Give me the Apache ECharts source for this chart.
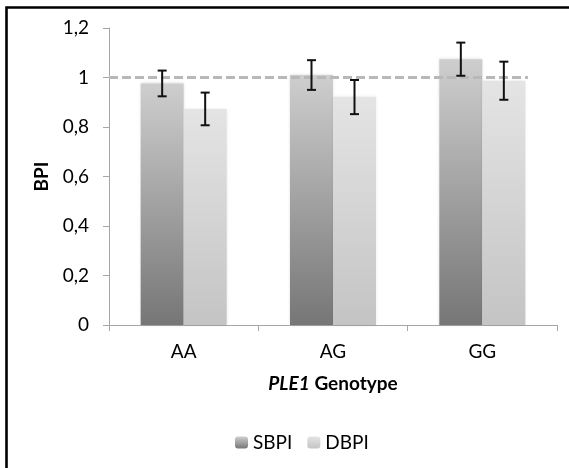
<!DOCTYPE html>
<html lang="en">
<head>
  <meta charset="UTF-8">
  <script src="https://cdn.jsdelivr.net/npm/echarts@6/dist/echarts.min.js"></script>
</head>
<body style="margin:0;background:#fff;">
<div id="main" style="width:569px;height:468px;"></div>

<script>
  var genotypes = ['AA', 'AG', 'GG'];
  var sbpi = [0.976, 1.010, 1.074];
  var dbpi = [0.873, 0.921, 0.987];
  var sbpiErr = [0.052, 0.060, 0.067];
  var dbpiErr = [0.066, 0.069, 0.077];
  var yTicks = [0, 0.2, 0.4, 0.6, 0.8, 1.0, 1.2];
  var refLine = [[0, 1], [2.806, 1]];

  var font = 'Lato';
  var fs = 19;
  var main = echarts.init(document.querySelector('#main'));

  var errData = [];
  for (var i = 0; i < genotypes.length; i++) {
    errData.push([i, sbpi[i] - sbpiErr[i], sbpi[i] + sbpiErr[i], 0]);
    errData.push([i, dbpi[i] - dbpiErr[i], dbpi[i] + dbpiErr[i], 1]);
  }

  function grad(top, bottom) {
    return new echarts.graphic.LinearGradient(0, 0, 0, 1, [
      {offset: 0, color: top}, {offset: 1, color: bottom}
    ]);
  }

  main.setOption({
    animation: false,
    graphic: [{
      type: 'rect',
      shape: {x: 6.5, y: 7.5, width: 700, height: 600},
      style: {fill: 'none', stroke: '#000', lineWidth: 2.6},
      z: 100
    }],
    legend: {
      data: ['SBPI', 'DBPI'],
      left: 230, top: 428,
      itemWidth: 13, itemHeight: 12, itemGap: 15,
      textStyle: {fontFamily: font, fontSize: fs, color: '#000'}
    },
    grid: {left: 109, right: 12, top: 28, bottom: 143},
    xAxis: [{
      type: 'category',
      data: genotypes,
      name: '{i|PLE1} Genotype',
      nameLocation: 'middle',
      nameGap: 49,
      nameTextStyle: {
        fontFamily: font, fontSize: fs, fontWeight: 'bold', color: '#000',
        rich: {i: {fontFamily: font, fontSize: fs, fontWeight: 'bold', fontStyle: 'italic', color: '#000'}}
      },
      axisLine: {lineStyle: {color: '#a6a6a6', width: 1}},
      axisTick: {show: true, length: 6, lineStyle: {color: '#a6a6a6'}},
      axisLabel: {fontFamily: font, fontSize: fs, color: '#000', margin: 17}
    }, {
      type: 'value', min: 0, max: 3, show: false
    }],
    yAxis: {
      type: 'value',
      min: yTicks[0], max: yTicks[yTicks.length - 1], interval: 0.2,
      name: 'BPI',
      nameLocation: 'middle',
      nameGap: 56,
      nameTextStyle: {fontFamily: font, fontSize: fs, fontWeight: 'bold', color: '#000'},
      axisLine: {show: true, lineStyle: {color: '#a6a6a6', width: 1}},
      axisTick: {show: true, length: 6, lineStyle: {color: '#a6a6a6'}},
      splitLine: {show: false},
      axisLabel: {
        fontFamily: font, fontSize: fs, color: '#000', margin: 20,
        formatter: function (v) { return String(Math.round(v * 10) / 10).replace('.', ','); }
      }
    },
    series: [{
      name: 'SBPI',
      type: 'bar',
      data: sbpi,
      barGap: '0%',
      barCategoryGap: '42.4%',
      itemStyle: {color: grad('#cecece', '#767676'), shadowBlur: 3, shadowColor: 'rgba(0,0,0,0.15)'}
    }, {
      name: 'DBPI',
      type: 'bar',
      data: dbpi,
      itemStyle: {color: grad('#e4e4e4', '#c4c4c4'), shadowBlur: 3, shadowColor: 'rgba(0,0,0,0.12)'}
    }, {
      type: 'line',
      xAxisIndex: 1,
      data: refLine,
      symbol: 'none',
      silent: true,
      lineStyle: {color: '#b8b8b8', width: 3, type: [9, 4]}
    }, {
      type: 'custom',
      data: errData,
      silent: true,
      renderItem: function (params, api) {
        var band = api.size([1, 0])[0];
        var bw = band * (1 - 0.424) / 2;
        var off = (api.value(3) === 0 ? -0.5 : 0.5) * bw;
        var lo = api.coord([api.value(0), api.value(1)]);
        var hi = api.coord([api.value(0), api.value(2)]);
        var x = lo[0] + off;
        var cap = 4.5;
        var st = {stroke: '#111', lineWidth: 2};
        return {
          type: 'group',
          children: [
            {type: 'line', shape: {x1: x, y1: lo[1], x2: x, y2: hi[1]}, style: st},
            {type: 'line', shape: {x1: x - cap, y1: lo[1], x2: x + cap, y2: lo[1]}, style: st},
            {type: 'line', shape: {x1: x - cap, y1: hi[1], x2: x + cap, y2: hi[1]}, style: st}
          ]
        };
      },
      z: 10
    }]
  });
</script>
</body>
</html>
